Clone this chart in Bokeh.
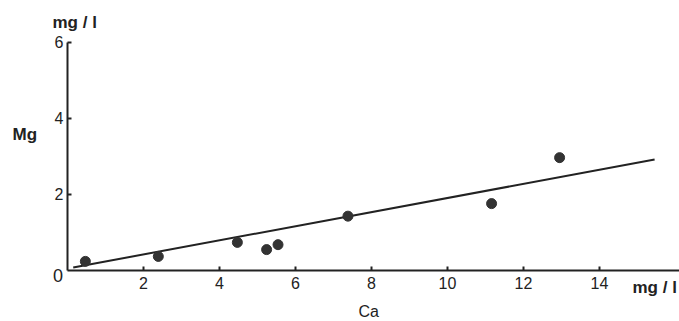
from bokeh.plotting import figure
from bokeh.models import Range1d, FixedTicker, Label, ColumnDataSource
from bokeh.embed import file_html
from bokeh.resources import INLINE

# Data (Ca vs Mg, mg/l)
ca = [0.47, 2.39, 4.47, 5.24, 5.54, 7.38, 11.16, 12.95]
mg = [0.24, 0.37, 0.74, 0.55, 0.68, 1.43, 1.76, 2.97]
# regression line end points
fit_ca = [0.15, 15.45]
fit_mg = [0.08, 2.92]
x_ticks = [2, 4, 6, 8, 10, 12, 14]
y_ticks = [2, 4, 6]

INK = "#222222"
FONT = "Liberation Sans"

X0, X1 = -1.763, 16.105
Y0, Y1 = -1.342, 7.105

p = figure(width=679, height=321,
           x_range=Range1d(X0, X1), y_range=Range1d(Y0, Y1),
           output_backend="svg", toolbar_location=None,
           min_border=0, min_border_left=0, min_border_right=0,
           min_border_top=0, min_border_bottom=0)
p.outline_line_color = None
p.xgrid.visible = False
p.ygrid.visible = False
p.background_fill_color = "white"
p.border_fill_color = "white"

for ax, ticks in ((p.xaxis[0], x_ticks), (p.yaxis[0], y_ticks)):
    ax.ticker = FixedTicker(ticks=ticks)
    ax.fixed_location = 0
    ax.major_tick_in = 4
    ax.major_tick_out = 0
    ax.minor_tick_line_color = None
    ax.axis_line_width = 2
    ax.axis_line_color = INK
    ax.major_tick_line_color = INK
    ax.major_tick_line_width = 2
    ax.major_label_text_font = FONT
    ax.major_label_text_font_size = "16px"
    ax.major_label_text_color = INK
p.xaxis.bounds = (0, X1)
p.yaxis.bounds = (0, 6)
p.xaxis.major_label_standoff = 6
p.yaxis.major_label_standoff = 4

src = ColumnDataSource(dict(ca=ca, mg=mg))
p.line(fit_ca, fit_mg, line_width=2, color=INK)
p.scatter("ca", "mg", source=src, size=10, color="#333333")

def lab(text, x, y, size="16px", bold=False, align="left", baseline="alphabetic"):
    p.add_layout(Label(x=x, y=y, text=text, text_font=FONT,
                       text_font_size=size,
                       text_font_style="bold" if bold else "normal",
                       text_color=INK, text_align=align,
                       text_baseline=baseline))

lab("0", -0.25, -0.13, size="18px", align="center", baseline="middle")
lab("mg / l", -0.395, 6.535, size="17px", bold=True)
lab("Mg", -1.447, 3.57, size="17px", bold=True)
lab("Ca", 7.658, -1.08, size="16px", bold=False)
lab("mg / l", 14.868, -0.44, size="17px", bold=True)

open("out.html", "w").write(file_html(p, INLINE))
